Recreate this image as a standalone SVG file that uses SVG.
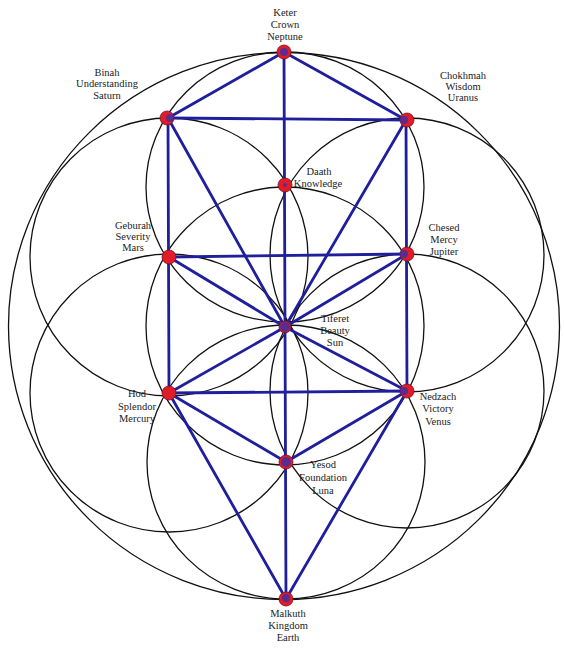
<svg xmlns="http://www.w3.org/2000/svg" width="564" height="652" viewBox="0 0 564 652">
<style>
.c{fill:none;stroke:#111;stroke-width:1.3}
.l{stroke:#1f1f9c;stroke-width:2.8;stroke-linecap:round}
.n{fill:#e01c28;stroke:#7a1020;stroke-width:0.8}
.b{fill:#3030b0;opacity:0.75}
text{font-family:"Liberation Serif","Times New Roman",serif;font-size:10.5px;fill:#222;text-anchor:middle}
</style>
<rect width="564" height="652" fill="#fff"/>
<g id="circles">
<ellipse class="c" cx="284" cy="326" rx="275.5" ry="273.5"/>
<circle class="c" cx="285" cy="326" r="139"/>
<ellipse class="c" cx="285" cy="187" rx="139" ry="135"/>
<ellipse class="c" cx="286" cy="462" rx="139" ry="137"/>
<circle class="c" cx="169" cy="257" r="139"/>
<circle class="c" cx="407" cy="255" r="137"/>
<circle class="c" cx="169" cy="393" r="139"/>
<circle class="c" cx="407" cy="391" r="137"/>
</g>
<g id="connectors">
<line class="l" x1="284" y1="52" x2="286" y2="599"/>
<line class="l" x1="284" y1="52" x2="168" y2="118"/>
<line class="l" x1="284" y1="52" x2="406" y2="120"/>
<line class="l" x1="168" y1="118" x2="406" y2="120"/>
<line class="l" x1="168" y1="118" x2="169" y2="393"/>
<line class="l" x1="406" y1="120" x2="407" y2="391"/>
<line class="l" x1="168" y1="118" x2="285" y2="327"/>
<line class="l" x1="406" y1="120" x2="285" y2="327"/>
<line class="l" x1="169" y1="257" x2="407" y2="254"/>
<line class="l" x1="169" y1="257" x2="285" y2="327"/>
<line class="l" x1="407" y1="254" x2="285" y2="327"/>
<line class="l" x1="169" y1="393" x2="285" y2="327"/>
<line class="l" x1="407" y1="391" x2="285" y2="327"/>
<line class="l" x1="169" y1="393" x2="407" y2="391"/>
<line class="l" x1="169" y1="393" x2="286" y2="462"/>
<line class="l" x1="407" y1="391" x2="286" y2="462"/>
<line class="l" x1="169" y1="393" x2="286" y2="599"/>
<line class="l" x1="407" y1="391" x2="286" y2="599"/>
</g>
<g id="keter"><circle class="n" cx="284" cy="52" r="7"/><circle class="b" cx="284" cy="52" r="4"/><text x="285" y="16">Keter</text><text x="285" y="28">Crown</text><text x="285" y="40">Neptune</text></g>
<g id="binah"><circle class="n" cx="167" cy="118" r="7"/><circle class="b" cx="170" cy="118" r="4"/><text x="107" y="76">Binah</text><text x="107" y="87">Understanding</text><text x="107" y="99">Saturn</text></g>
<g id="chokhmah"><circle class="n" cx="407" cy="120" r="7"/><circle class="b" cx="404" cy="120" r="4"/><text x="463" y="79">Chokhmah</text><text x="463" y="90">Wisdom</text><text x="463" y="101">Uranus</text></g>
<g id="daath"><circle class="n" cx="285" cy="185" r="7"/><circle class="b" cx="285" cy="185" r="2"/><text x="319" y="175">Daath</text><text x="318" y="187">Knowledge</text></g>
<g id="geburah"><circle class="n" cx="169" cy="257" r="7"/><text x="133" y="229">Geburah</text><text x="133" y="240">Severity</text><text x="133" y="251">Mars</text></g>
<g id="chesed"><circle class="n" cx="407" cy="254" r="7"/><circle class="b" cx="404" cy="254" r="4"/><text x="444" y="231">Chesed</text><text x="444" y="243">Mercy</text><text x="444" y="255">Jupiter</text></g>
<g id="tiferet"><circle class="n" cx="285" cy="327" r="6"/><circle class="b" cx="285" cy="327" r="5"/><text x="335" y="322">Tiferet</text><text x="335" y="334">Beauty</text><text x="335" y="346">Sun</text></g>
<g id="hod"><circle class="n" cx="169" cy="393" r="7"/><text x="137" y="397">Hod</text><text x="137" y="410">Splendor</text><text x="137" y="422">Mercury</text></g>
<g id="nedzach"><circle class="n" cx="407" cy="391" r="7"/><circle class="b" cx="404" cy="391" r="4"/><text x="438" y="400">Nedzach</text><text x="438" y="412">Victory</text><text x="438" y="425">Venus</text></g>
<g id="yesod"><circle class="n" cx="286" cy="462" r="7"/><circle class="b" cx="286" cy="462" r="5"/><text x="323" y="468">Yesod</text><text x="323" y="481">Foundation</text><text x="323" y="494">Luna</text></g>
<g id="malkuth"><circle class="n" cx="286" cy="599" r="7"/><circle class="b" cx="286" cy="598" r="4"/><text x="288" y="617">Malkuth</text><text x="288" y="629">Kingdom</text><text x="288" y="641">Earth</text></g>
</svg>
